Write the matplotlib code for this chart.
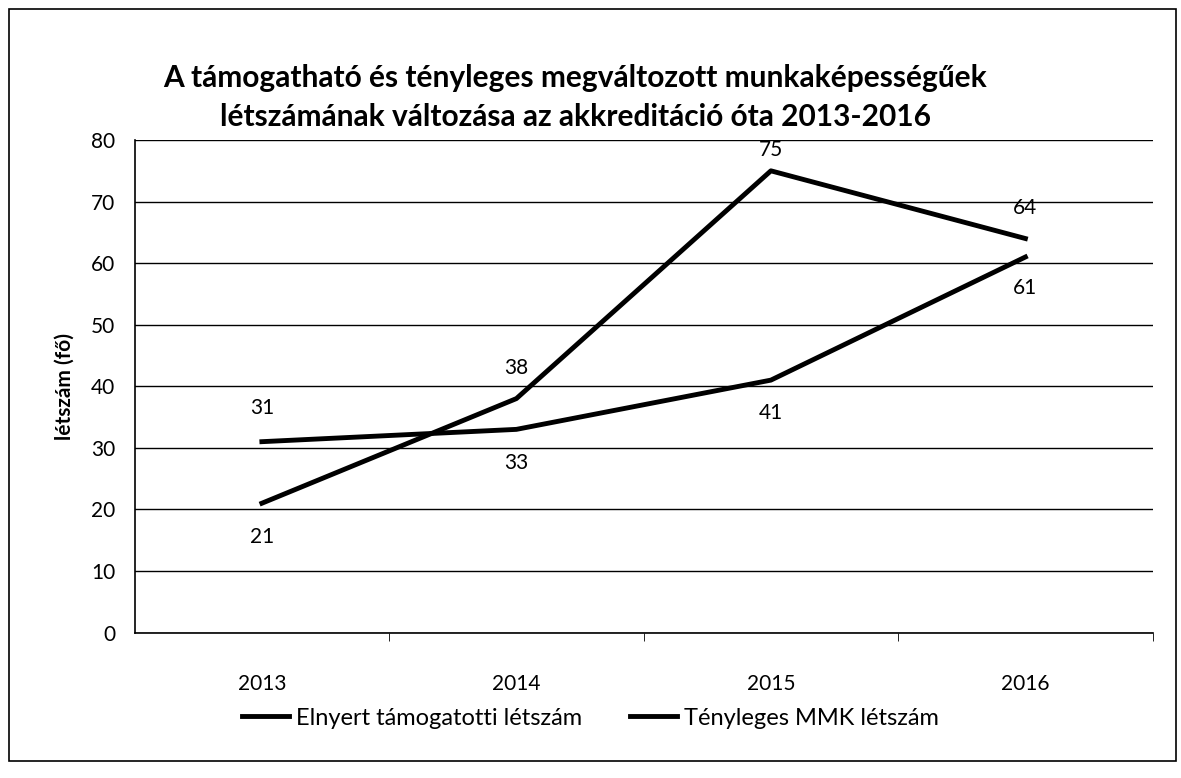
import matplotlib.pyplot as plt

plt.rcParams['font.family'] = ['Lato', 'DejaVu Sans']

years = ['2013', '2014', '2015', '2016']
elnyert = [31, 33, 41, 61]
tenyleges = [21, 38, 75, 64]
label_elnyert = 'Elnyert támogatotti létszám'
label_tenyleges = 'Tényleges MMK létszám'
title = ('A támogatható és tényleges megváltozott munkaképességűek\n'
         'létszámának változása az akkreditáció óta 2013-2016')

fig = plt.figure(figsize=(11.81, 7.78), dpi=100)
# outer chart frame
fig.patches.append(plt.Rectangle((0.008, 0.022), 0.988, 0.966, transform=fig.transFigure,
                                 fill=False, edgecolor='black', linewidth=1.2))

ax = fig.add_axes([0.114, 0.187, 0.862, 0.633])
x = range(len(years))
ax.plot(x, elnyert, color='black', linewidth=3.5, label=label_elnyert)
ax.plot(x, tenyleges, color='black', linewidth=3.5, label=label_tenyleges)

# data labels (offset in points, + above / - below)
off_elnyert = [24, -24, -24, -22]
off_tenyleges = [-24, 22, 15, 22]
for i, (v, d) in enumerate(zip(elnyert, off_elnyert)):
    ax.annotate(str(v), (i, v), xytext=(0, d), textcoords='offset points',
                ha='center', va='center', fontsize=15)
for i, (v, d) in enumerate(zip(tenyleges, off_tenyleges)):
    ax.annotate(str(v), (i, v), xytext=(0, d), textcoords='offset points',
                ha='center', va='center', fontsize=15)

ax.set_xlim(-0.5, 3.5)
ax.set_ylim(0, 80)
ax.set_yticks(range(0, 81, 10))
ax.set_xticks(x)
ax.set_xticklabels(years)
ax.set_xticks([0.5, 1.5, 2.5, 3.5], minor=True)
ax.tick_params(axis='x', which='major', length=0, pad=30, labelsize=15)
ax.tick_params(axis='x', which='minor', length=6, color='black')
ax.tick_params(axis='y', length=0, pad=14, labelsize=15)
ax.yaxis.grid(True, color='black', linewidth=1)
ax.set_axisbelow(True)
for s in ['top', 'right']:
    ax.spines[s].set_visible(False)
ax.spines['left'].set_linewidth(1.2)
ax.spines['bottom'].set_linewidth(1.2)
ax.set_ylabel('létszám (fő)', fontsize=15, fontweight='bold', labelpad=12)

fig.text(0.487, 0.875, title, ha='center', va='center', fontsize=21.5,
         fontweight='bold', linespacing=1.5)

fig.legend(loc='center', bbox_to_anchor=(0.5, 0.077), ncol=2, frameon=False,
           fontsize=17, handlelength=2.0, handletextpad=0.3, columnspacing=2.0)

fig.savefig('out.png', dpi=100)
